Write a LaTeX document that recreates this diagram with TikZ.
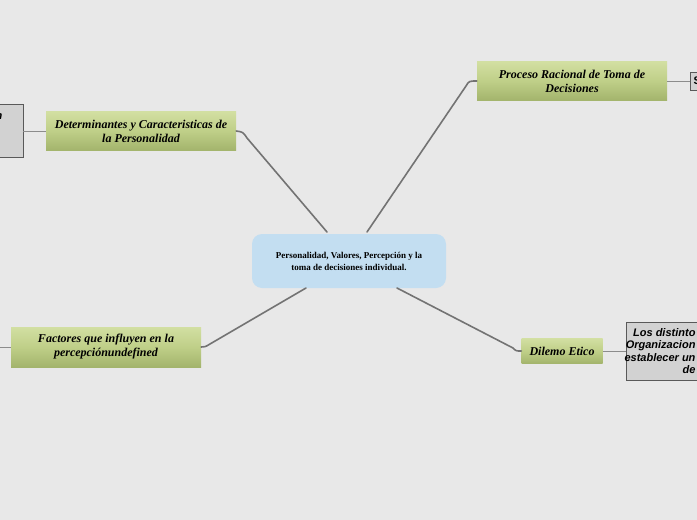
\documentclass[tikz,border=0pt]{standalone}
\usepackage{fontspec}
\setmainfont{Liberation Serif}
\newfontfamily\arialf{Liberation Sans}
\definecolor{gtop}{HTML}{D2DFA2}
\definecolor{gmid}{HTML}{BFCF88}
\definecolor{gbot}{HTML}{A3B46C}
\definecolor{cblue}{HTML}{C3DEF1}
\begin{document}
\begin{tikzpicture}[x=1pt,y=-1pt,
 greenbox/.style={minimum height=39pt,inner sep=0pt,align=center,font=\bfseries\itshape\fontsize{12}{14}\selectfont,
   top color=gtop,bottom color=gbot,middle color=gmid},
 graybox/.style={draw=gray!70!black,fill=gray!35,line width=0.6pt},
 conn/.style={draw=black!55,line width=1.6pt,line cap=round,line join=round},
 thin/.style={draw=black!45,line width=0.6pt}]
\useasboundingbox (0,0) rectangle (697,520);
\fill[gray!18] (0,0) rectangle (697,520);
\begin{scope}
\clip (0,0) rectangle (697,520);
\draw[graybox] (-60,104) rectangle (23,157);
\node[font=\arialf\bfseries\itshape\fontsize{11}{13}\selectfont,anchor=east] (gl) at (6,117) {n};
\draw[graybox] (690,72) rectangle (720,90);
\node[font=\arialf\bfseries\fontsize{11}{13}\selectfont,anchor=west] (gt) at (690,81) {S};
\draw[graybox] (626,322) rectangle (720,380);
\node[font=\arialf\bfseries\itshape\fontsize{11}{12.5}\selectfont,align=right,anchor=east] (gb) at (699,351) {Los distinto\\Organizacion\\establecer un\\de};
\end{scope}
\node[fill=cblue,rounded corners=10pt,minimum width=194pt,minimum height=54pt,align=center,
 font=\bfseries\fontsize{9}{12}\selectfont] (c) at (349,261) {Personalidad, Valores, Percepción y la\\toma de decisiones individual.};
\node[greenbox,minimum width=190pt] (p) at (572,81) {Proceso Racional de Toma de\\Decisiones};
\node[greenbox,minimum width=190pt] (d) at (141,131) {Determinantes y Caracteristicas de\\la Personalidad};
\node[greenbox,minimum width=190pt,minimum height=40pt] (f) at (106,347) {Factores que influyen en la\\percepciónundefined};
\node[greenbox,minimum width=81pt,minimum height=25pt] (e) at (562,351) {Dilemo Etico};
\coordinate (c1) at (327,232);\coordinate (c2) at (367,232);
\coordinate (c3) at (306,288);\coordinate (c4) at (397,288);
\draw[conn] (c1) -- (247,138) .. controls (243,132) .. (d.east);
\draw[conn] (c2) -- (466,86) .. controls (469,81) .. (p.west);
\draw[conn] (c3) -- (210,344) .. controls (205,347) .. (f.east);
\draw[conn] (c4) -- (513,348) .. controls (516,351) .. (e.west);
\draw[thin] (d.west) -- (23,131);
\draw[thin] (f.west) -- (0,347);
\draw[thin] (p.east) -- (690,81);
\draw[thin] (e.east) -- (626,351);
\end{tikzpicture}
\end{document}
